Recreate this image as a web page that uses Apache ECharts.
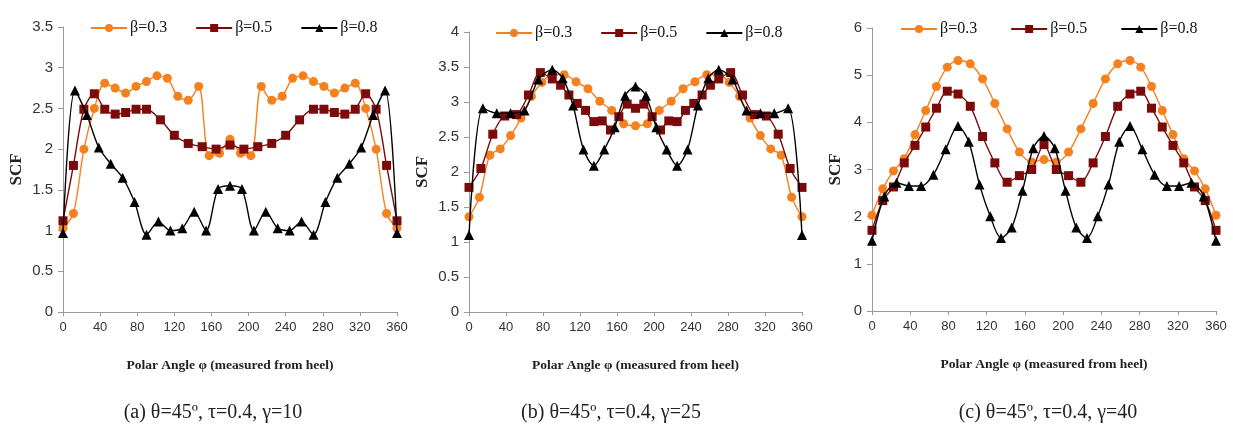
<!DOCTYPE html>
<html>
<head>
<meta charset="utf-8">
<script src="https://cdn.jsdelivr.net/npm/echarts@6/dist/echarts.min.js"></script>
<style>
  html, body { margin: 0; padding: 0; background: #fff; }
  #chart { width: 1233px; height: 431px; }
</style>
</head>
<body>
<div id="chart"></div>
<script>
// SCF vs polar angle, three gamma cases
var names = ['β=0.3', 'β=0.5', 'β=0.8']
var colors = ['#f5801e', '#7d0a0a', '#000000']
var symbols = ['circle', 'rect', 'triangle']

// (a) gamma = 10
var angA3 = [0, 11.25, 22.5, 33.75, 45, 56.25, 67.5, 78.75, 90, 101.25, 112.5, 123.75, 135, 146.25, 157.5, 168.75, 180,
    191.25, 202.5, 213.75, 225, 236.25, 247.5, 258.75, 270, 281.25, 292.5, 303.75, 315, 326.25, 337.5, 348.75, 360]
var scfA3 = [1.03, 1.21, 2.00, 2.50, 2.81, 2.75, 2.69, 2.77, 2.83, 2.90, 2.87, 2.65, 2.60, 2.77, 1.92, 1.95, 2.12,
    1.95, 1.92, 2.77, 2.60, 2.65, 2.87, 2.90, 2.83, 2.77, 2.69, 2.75, 2.81, 2.50, 2.00, 1.21, 1.03]
var angA5 = [0, 11.25, 22.5, 33.75, 45, 56.25, 67.5, 78.75, 90, 105, 120, 135, 150, 165, 180,
    195, 210, 225, 240, 255, 270, 281.25, 292.5, 303.75, 315, 326.25, 337.5, 348.75, 360]
var scfA5 = [1.12, 1.80, 2.49, 2.68, 2.49, 2.43, 2.45, 2.49, 2.49, 2.36, 2.17, 2.07, 2.03, 2.00, 2.05,
    2.00, 2.03, 2.07, 2.17, 2.36, 2.49, 2.49, 2.45, 2.43, 2.49, 2.68, 2.49, 1.80, 1.12]
var angA8 = [0, 12.86, 25.71, 38.57, 51.43, 64.29, 77.14, 90, 102.86, 115.71, 128.57, 141.43, 154.29, 167.14, 180,
    192.86, 205.71, 218.57, 231.43, 244.29, 257.14, 270, 282.86, 295.71, 308.57, 321.43, 334.29, 347.14, 360]
var scfA8 = [0.97, 2.72, 2.42, 2.02, 1.82, 1.65, 1.35, 0.95, 1.11, 1.00, 1.03, 1.23, 1.00, 1.51, 1.55,
    1.51, 1.00, 1.23, 1.03, 1.00, 1.11, 0.95, 1.35, 1.65, 1.82, 2.02, 2.42, 2.72, 0.97]

// (b) gamma = 25
var angB3 = [0, 11.25, 22.5, 33.75, 45, 56.25, 67.5, 78.75, 90, 102.86, 115.71, 128.57, 141.43, 154.29, 167.14, 180,
    192.86, 205.71, 218.57, 231.43, 244.29, 257.14, 270, 281.25, 292.5, 303.75, 315, 326.25, 337.5, 348.75, 360]
var scfB3 = [1.36, 1.64, 2.24, 2.33, 2.52, 2.77, 3.08, 3.28, 3.39, 3.39, 3.29, 3.19, 3.01, 2.88, 2.69, 2.66,
    2.69, 2.88, 3.01, 3.19, 3.29, 3.39, 3.39, 3.28, 3.08, 2.77, 2.52, 2.33, 2.24, 1.64, 1.36]
var angB5 = [0, 12.86, 25.71, 38.57, 51.43, 64.29, 77.14, 90, 99, 108, 117, 126, 135, 144, 153, 162, 171, 180,
    189, 198, 207, 216, 225, 234, 243, 252, 261, 270, 282.86, 295.71, 308.57, 321.43, 334.29, 347.14, 360]
var scfB5 = [1.78, 2.05, 2.54, 2.80, 2.82, 3.10, 3.42, 3.33, 3.24, 3.10, 2.98, 2.88, 2.72, 2.73, 2.60, 2.79, 2.97, 2.91,
    2.97, 2.79, 2.60, 2.73, 2.72, 2.88, 2.98, 3.10, 3.24, 3.33, 3.42, 3.10, 2.82, 2.80, 2.54, 2.05, 1.78]
var angB8 = [0, 15, 30, 45, 60, 75, 90, 101.25, 112.5, 123.75, 135, 146.25, 157.5, 168.75, 180,
    191.25, 202.5, 213.75, 225, 236.25, 247.5, 258.75, 270, 285, 300, 315, 330, 345, 360]
var scfB8 = [1.10, 2.91, 2.84, 2.84, 2.88, 3.32, 3.46, 3.34, 2.95, 2.32, 2.09, 2.32, 2.64, 3.09, 3.22,
    3.09, 2.64, 2.32, 2.09, 2.32, 2.95, 3.34, 3.46, 3.32, 2.88, 2.84, 2.84, 2.91, 1.10]

// (c) gamma = 40
var angC3 = [0, 11.25, 22.5, 33.75, 45, 56.25, 67.5, 78.75, 90, 102.86, 115.71, 128.57, 141.43, 154.29, 167.14, 180,
    192.86, 205.71, 218.57, 231.43, 244.29, 257.14, 270, 281.25, 292.5, 303.75, 315, 326.25, 337.5, 348.75, 360]
var scfC3 = [2.03, 2.59, 2.97, 3.23, 3.74, 4.25, 4.76, 5.17, 5.31, 5.24, 4.92, 4.40, 3.86, 3.37, 3.16, 3.21,
    3.16, 3.37, 3.86, 4.40, 4.92, 5.24, 5.31, 5.17, 4.76, 4.25, 3.74, 3.23, 2.97, 2.59, 2.03]
var angC5 = angC3
var scfC5 = [1.71, 2.34, 2.63, 3.14, 3.51, 3.90, 4.30, 4.66, 4.60, 4.34, 3.70, 3.14, 2.73, 2.87, 3.00, 3.53,
    3.00, 2.87, 2.73, 3.14, 3.70, 4.34, 4.60, 4.66, 4.30, 3.90, 3.51, 3.14, 2.63, 2.34, 1.71]
var angC8 = [0, 12.86, 25.71, 38.57, 51.43, 64.29, 77.14, 90, 101.25, 112.5, 123.75, 135, 146.25, 157.5, 168.75, 180,
    191.25, 202.5, 213.75, 225, 236.25, 247.5, 258.75, 270, 282.86, 295.71, 308.57, 321.43, 334.29, 347.14, 360]
var scfC8 = [1.49, 2.43, 2.72, 2.65, 2.65, 2.89, 3.43, 3.92, 3.59, 2.68, 2.01, 1.55, 1.77, 2.55, 3.45, 3.71,
    3.45, 2.55, 1.77, 1.55, 2.01, 2.68, 3.59, 3.92, 3.43, 2.89, 2.65, 2.65, 2.72, 2.43, 1.49]

var yMax = [3.5, 4, 6]
var yStep = [0.5, 0.5, 1]
var captions = ['(a) θ=45º, τ=0.4, γ=10', '(b) θ=45º, τ=0.4, γ=25', '(c) θ=45º, τ=0.4, γ=40']

var panels = [
    [[angA3, scfA3], [angA5, scfA5], [angA8, scfA8]],
    [[angB3, scfB3], [angB5, scfB5], [angB8, scfB8]],
    [[angC3, scfC3], [angC5, scfC5], [angC8, scfC8]]
]

// layout of the three panels
var grids = [
    {left: 63, top: 27, width: 334, height: 285},
    {left: 469, top: 32, width: 333, height: 280},
    {left: 872, top: 28, width: 344, height: 283}
]
var nameGaps = [38, 38, 28]
var legendLeft = [90, 495, 900]
var legendGap = [28, 28, 33]
var captionX = [213, 611, 1048]

function pairs(xs, ys) {
    return xs.map(function (x, i) { return [x, ys[i]] })
}

var xAxes = [], yAxes = [], series = [], legends = [], graphics = []
for (var p = 0; p < 3; p++) {
    xAxes.push({
        gridIndex: p,
        type: 'value',
        min: 0, max: 360, interval: 40,
        name: 'Polar Angle φ (measured from heel)',
        nameLocation: 'middle',
        nameGap: 47,
        nameTextStyle: {fontFamily: 'Liberation Serif', fontWeight: 'bold', fontSize: 13.5, color: '#222'},
        splitLine: {show: false},
        axisLine: {lineStyle: {color: '#9a9a9a'}},
        axisTick: {length: 4, lineStyle: {color: '#9a9a9a'}},
        axisLabel: {fontFamily: 'Liberation Sans Narrow, Liberation Sans, sans-serif', fontSize: 13, color: '#333', margin: 9}
    })
    yAxes.push({
        gridIndex: p,
        type: 'value',
        min: 0, max: yMax[p], interval: yStep[p],
        name: 'SCF',
        nameLocation: 'middle',
        nameGap: nameGaps[p],
        nameTextStyle: {fontFamily: 'Liberation Serif', fontWeight: 'bold', fontSize: 17, color: '#222'},
        splitLine: {show: false},
        axisLine: {show: true, lineStyle: {color: '#9a9a9a'}},
        axisTick: {show: true, length: 5, lineStyle: {color: '#9a9a9a'}},
        axisLabel: {fontFamily: 'Liberation Sans, sans-serif', fontSize: 15, color: '#333', margin: 10}
    })
    for (var s = 0; s < 3; s++) {
        series.push({
            name: names[s],
            type: 'line',
            xAxisIndex: p,
            yAxisIndex: p,
            data: pairs(panels[p][s][0], panels[p][s][1]),
            smooth: 0.3,
            symbol: symbols[s],
            symbolSize: s == 2 ? 10 : 9,
            color: colors[s],
            lineStyle: {width: 1.4, color: colors[s]},
            itemStyle: {color: colors[s]},
            z: 2 + s
        })
    }
    legends.push({
        data: names,
        left: legendLeft[p],
        top: grids[p].top - 7,
        padding: 0,
        itemWidth: 36,
        itemHeight: 10,
        itemGap: legendGap[p],
        textStyle: {fontFamily: 'Liberation Serif', fontSize: 16, color: '#111', padding: [0, 0, 0, -2]}
    })
    graphics.push({
        type: 'text',
        x: captionX[p],
        y: 413,
        style: {
            text: captions[p],
            font: '20px "Liberation Serif"',
            fill: '#222',
            textAlign: 'center',
            textVerticalAlign: 'middle'
        }
    })
}

var option = {
    animation: false,
    backgroundColor: '#fff',
    grid: grids,
    xAxis: xAxes,
    yAxis: yAxes,
    legend: legends,
    series: series,
    graphic: graphics
}

var chart = echarts.init(document.getElementById('chart'), null, {renderer: 'canvas'})
chart.setOption(option)
</script>
</body>
</html>
